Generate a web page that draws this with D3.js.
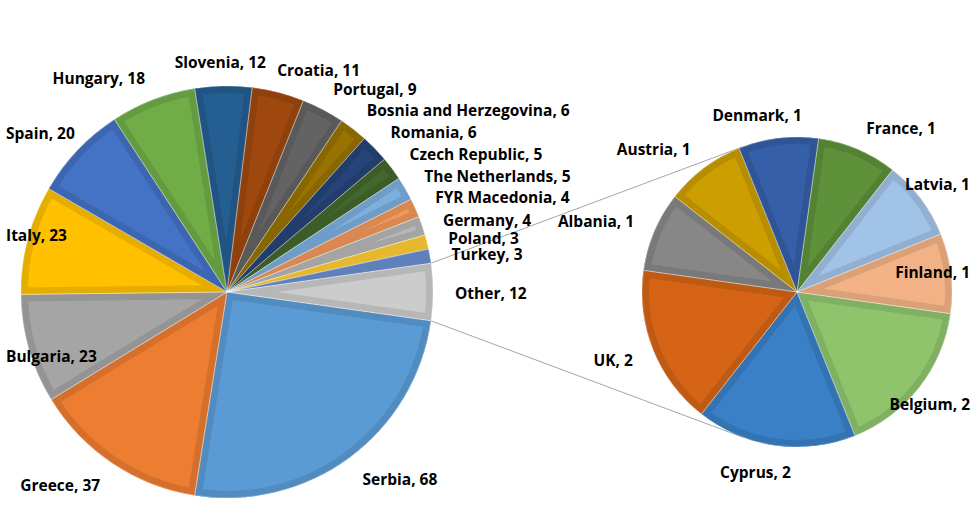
<!DOCTYPE html>
<html><head><meta charset="utf-8">
<script src="https://cdn.jsdelivr.net/npm/d3@7"></script>
<style>
html,body{margin:0;padding:0;background:#fff;}
svg{display:block;}
text{font-family:"Open Sans","Noto Sans",sans-serif;font-weight:700;font-size:15.5px;fill:#000;}
</style></head>
<body><svg id="c" width="977" height="532"></svg>
<script>
// ---- data ----
const mainCats = ["Serbia","Greece","Bulgaria","Italy","Spain","Hungary","Slovenia","Croatia","Portugal","Bosnia and Herzegovina","Romania","Czech Republic","The Netherlands","FYR Macedonia","Germany","Poland","Turkey","Other"];
const mainVals = [68,37,23,23,20,18,12,11,9,6,6,5,5,4,4,3,3,12];
const mainColors = ["#5B9BD5","#ED7D31","#A5A5A5","#FFC000","#4472C4","#70AD47","#255E91","#9E480E","#636363","#997300","#264478","#43682B","#7CAFDD","#F1975A","#B7B7B7","#FFCD33","#698ED0","#CCCCCC"];
const subCats = ["Belgium","Cyprus","UK","Albania","Austria","Denmark","France","Latvia","Finland"];
const subVals = [2,2,2,1,1,1,1,1,1];
const subColors = ["#8FC46C","#3A80C6","#D56416","#878787","#CC9E00","#355FA8","#5E913A","#A2C3E8","#F3B286"];

const W = 977, H = 532;
const svg = d3.select("#c");
const mainC = {x:227, y:292, r:206};
const subC = {x:797, y:292, r:155};

const total = d3.sum(mainVals);
const otherAng = 2*Math.PI*mainVals[mainVals.length-1]/total;
const start = Math.PI/2 + otherAng/2;

const pieGen = d3.pie().sort(null).value(d=>d.v).startAngle(start).endAngle(start+2*Math.PI);
const mainArcs = pieGen(mainCats.map((c,i)=>({c, v:mainVals[i], col:mainColors[i]})));
const subArcs = pieGen(subCats.map((c,i)=>({c, v:subVals[i], col:subColors[i]})));

// connector lines (external tangents from Other slice edges to secondary pie)
const otherArc = mainArcs[mainArcs.length-1];
function ptOn(c, a){ return [c.x + c.r*Math.sin(a), c.y - c.r*Math.cos(a)]; }
function tangent(P, upper){
  const dx = subC.x-P[0], dy = subC.y-P[1];
  const d = Math.hypot(dx,dy);
  const base = Math.atan2(dy,dx);
  const off = Math.asin(subC.r/d);
  const ang = upper ? base-off : base+off;
  const L = Math.sqrt(d*d - subC.r*subC.r);
  return [P[0]+L*Math.cos(ang), P[1]+L*Math.sin(ang)];
}
const P1 = ptOn(mainC, otherArc.startAngle), P2 = ptOn(mainC, otherArc.endAngle);
const T1 = tangent(P1,true), T2 = tangent(P2,false);
svg.append("line").attr("x1",P1[0]).attr("y1",P1[1]).attr("x2",T1[0]).attr("y2",T1[1]).attr("stroke","#A6A6A6").attr("stroke-width",1);
svg.append("line").attr("x1",P2[0]).attr("y1",P2[1]).attr("x2",T2[0]).attr("y2",T2[1]).attr("stroke","#A6A6A6").attr("stroke-width",1);

let clipId = 0;
function drawPie(c, arcs){
  const arcGen = d3.arc().innerRadius(0).outerRadius(c.r);
  const g = svg.append("g").attr("transform",`translate(${c.x},${c.y})`);
  arcs.forEach(d=>{
    const id = "clp"+(clipId++);
    const p = arcGen(d);
    g.append("clipPath").attr("id",id).append("path").attr("d",p);
    g.append("path").attr("d",p).attr("fill",d.data.col);
    g.append("path").attr("d",p).attr("fill","none")
      .attr("stroke", d3.color(d.data.col).darker(0.3))
      .attr("stroke-width",14).attr("stroke-linejoin","miter")
      .attr("clip-path",`url(#${id})`);
  });
  arcs.forEach(d=>{
    g.append("path").attr("d",arcGen(d)).attr("fill","none")
      .attr("stroke","#ffffff").attr("stroke-opacity",0.5).attr("stroke-width",0.6);
  });
}
drawPie(mainC, mainArcs);
drawPie(subC, subArcs);

function drawLabels(c, arcs, gap){
  const Rl = c.r + gap;
  arcs.forEach(d=>{
    const mid = (d.startAngle+d.endAngle)/2;
    const s = Math.sin(mid), co = Math.cos(mid);
    const px = c.x + Rl*s, py = c.y - Rl*co;
    const t = svg.append("text").text(`${d.data.c}, ${d.data.v}`).attr("dy","0.35em");
    const w = t.node().getComputedTextLength();
    const f = Math.max(0, Math.min(1, 0.5 - 1.7*s));
    let left = px - w*f;
    left = Math.max(6, Math.min(970 - w, left));
    const y = py + (co < 0 ? -5*co : (co < 0.35 ? 2 : -1));
    t.attr("x",left).attr("y",y);
  });
}
drawLabels(mainC, mainArcs, 22);
drawLabels(subC, subArcs, 22);
</script></body></html>
